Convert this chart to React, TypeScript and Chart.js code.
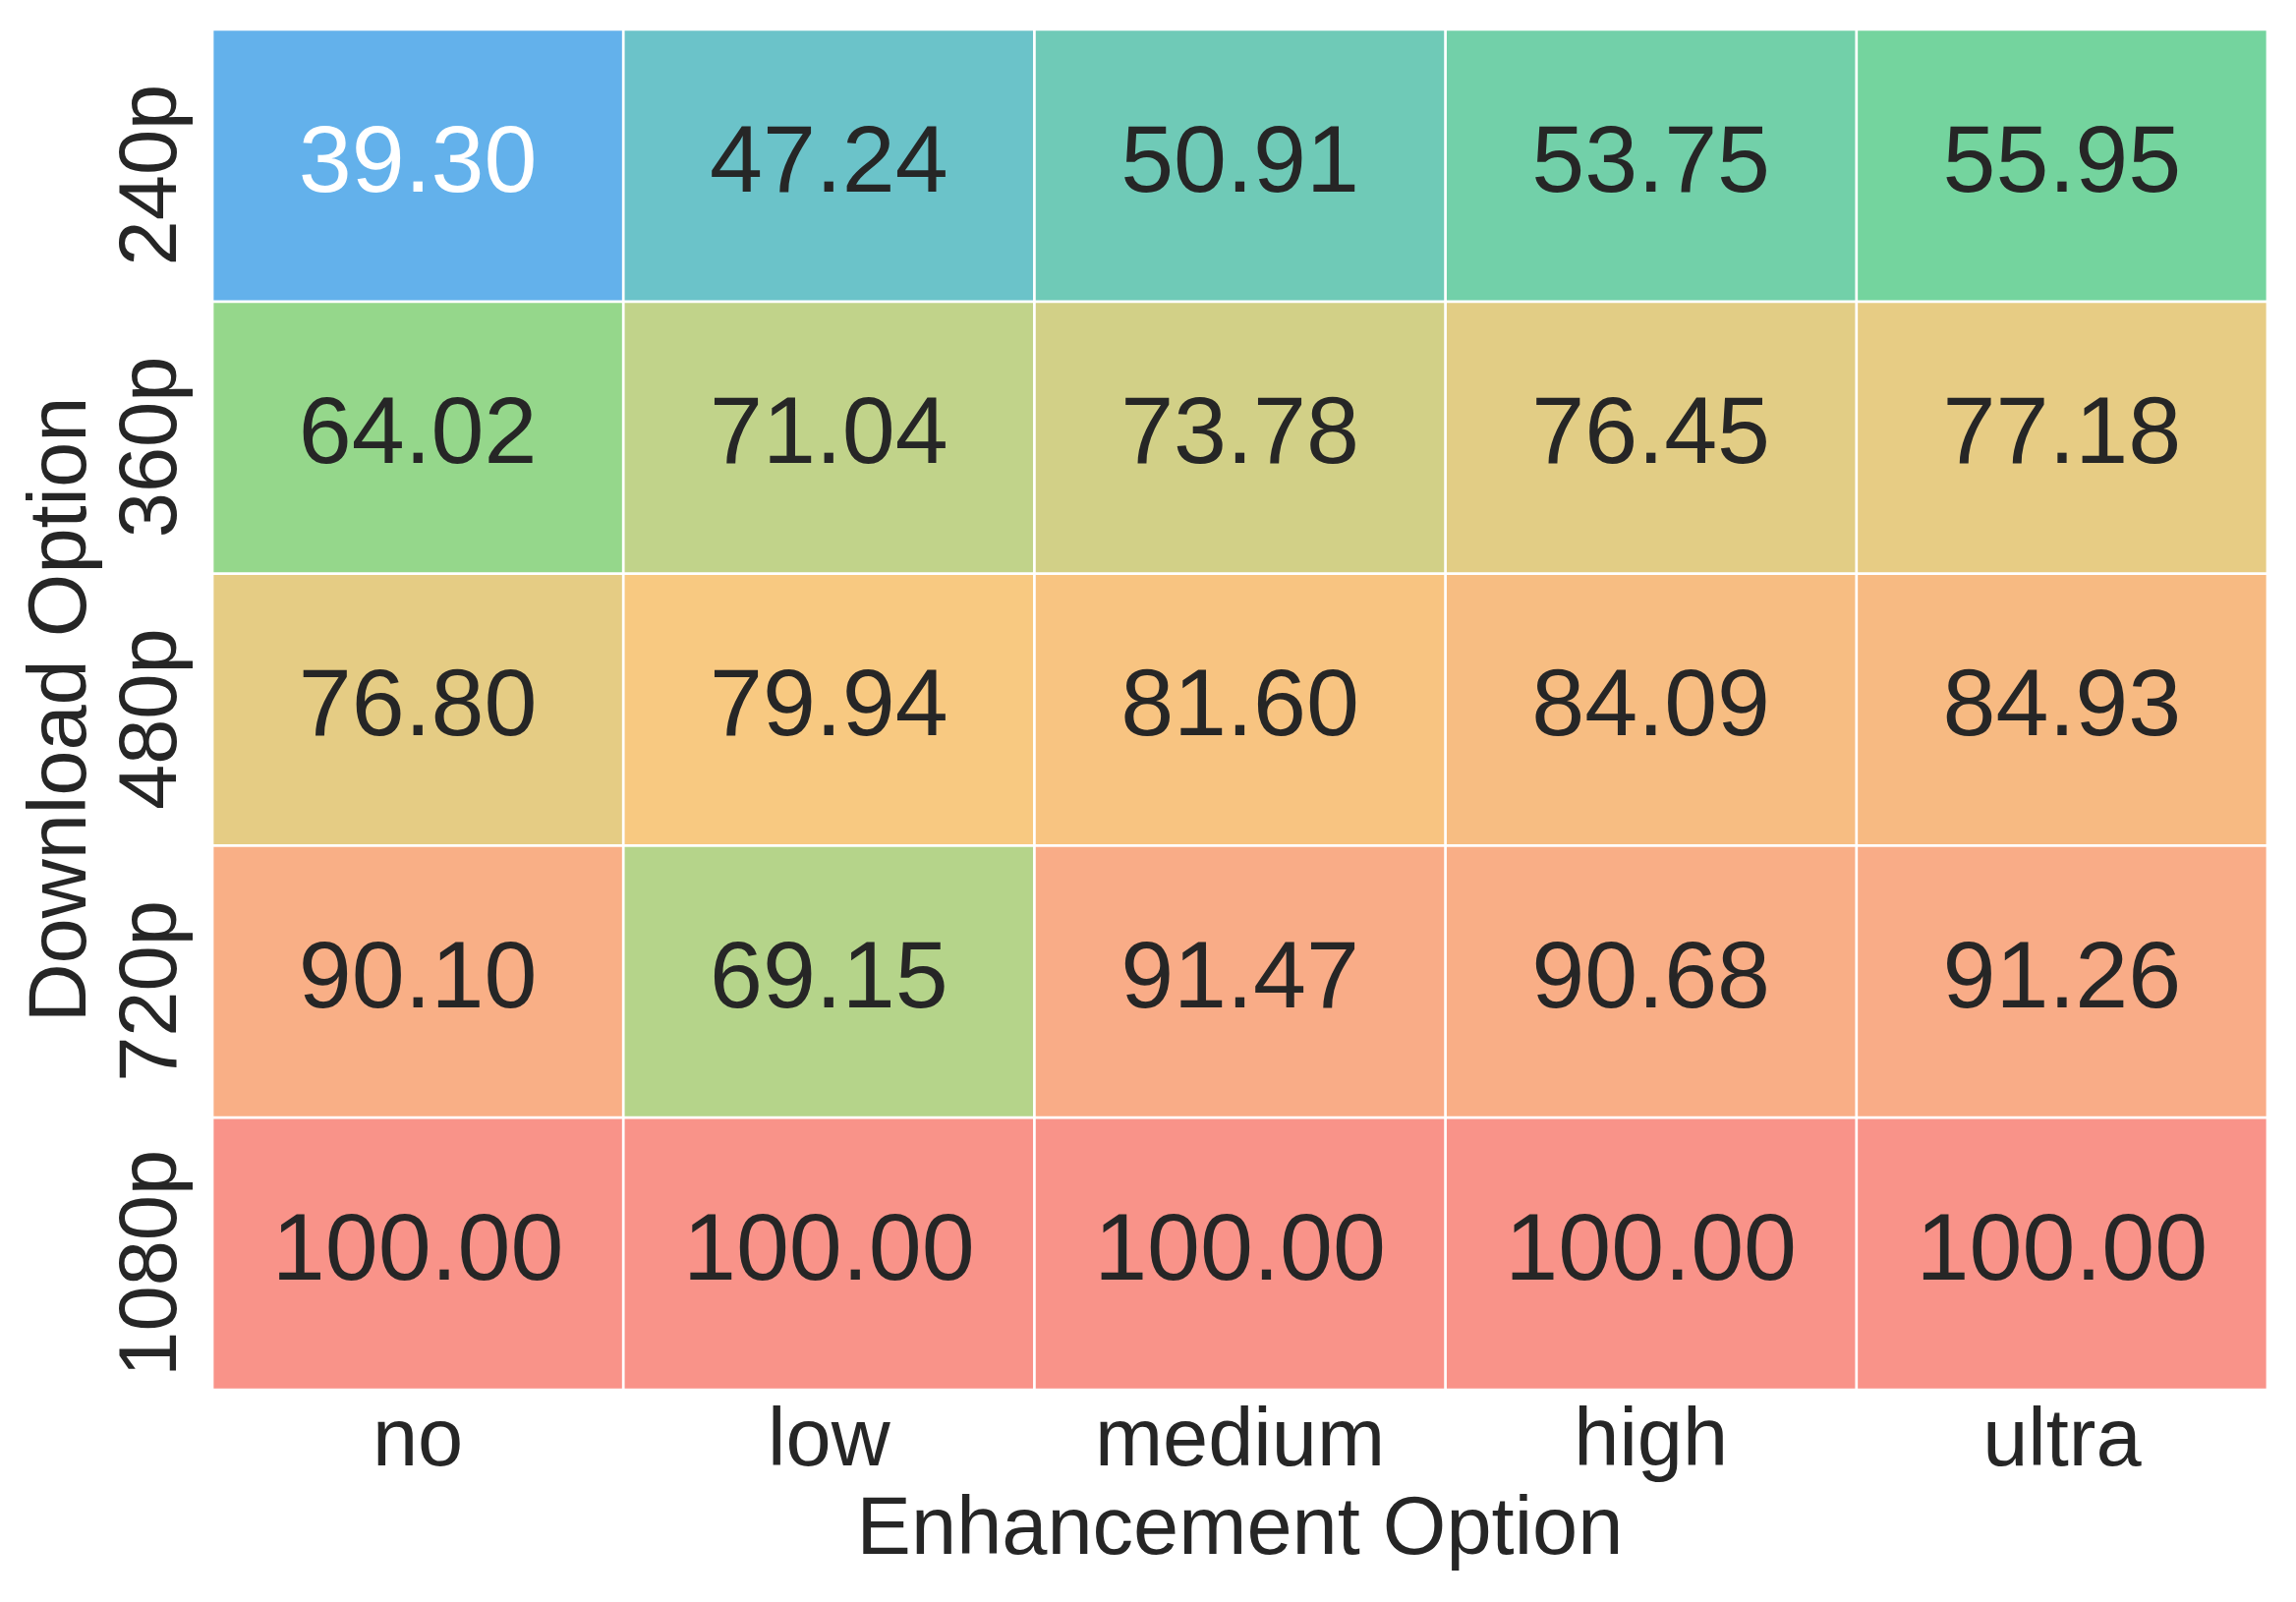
import React, { useEffect, useRef } from "react";
import { Chart, registerables } from "chart.js";

Chart.register(...registerables);

const enhancementOptions = ["no", "low", "medium", "high", "ultra"];
const downloadOptions = ["240p", "360p", "480p", "720p", "1080p"];

const row240p = [39.3, 47.24, 50.91, 53.75, 55.95];
const row360p = [64.02, 71.04, 73.78, 76.45, 77.18];
const row480p = [76.8, 79.94, 81.6, 84.09, 84.93];
const row720p = [90.1, 69.15, 91.47, 90.68, 91.26];
const row1080p = [100.0, 100.0, 100.0, 100.0, 100.0];
const matrixRows = [row240p, row360p, row480p, row720p, row1080p];

// colormap stops (value -> colour)
const colorStops = [39.3, 47.24, 55.95, 64.02, 71.04, 77.18, 79.94, 84.93, 91.47, 100];
const colorHex = ["#63b1eb", "#6bc3c9", "#74d49e", "#95d78b", "#c1d38a", "#e7cc84", "#f8c981", "#f7ba82", "#f9ac87", "#f99389"];

const FONT = "'Liberation Sans', Arial, Helvetica, sans-serif";
const TEXT = "#262626";

function hexToRgb(h: string) {
  const n = parseInt(h.slice(1), 16);
  return [(n >> 16) & 255, (n >> 8) & 255, n & 255];
}

function valueToRgb(v: number) {
  if (v <= colorStops[0]) return hexToRgb(colorHex[0]);
  for (let i = 1; i < colorStops.length; i++) {
    if (v <= colorStops[i]) {
      const t = (v - colorStops[i - 1]) / (colorStops[i] - colorStops[i - 1]);
      const a = hexToRgb(colorHex[i - 1]);
      const b = hexToRgb(colorHex[i]);
      return a.map((x, k) => Math.round(x + (b[k] - x) * t));
    }
  }
  return hexToRgb(colorHex[colorHex.length - 1]);
}

function rgbStr(c: number[]) {
  return `rgb(${c[0]},${c[1]},${c[2]})`;
}

function luminance(c: number[]) {
  const f = (x: number) => {
    const s = x / 255;
    return s <= 0.03928 ? s / 12.92 : Math.pow((s + 0.055) / 1.055, 2.4);
  };
  return 0.2126 * f(c[0]) + 0.7152 * f(c[1]) + 0.0722 * f(c[2]);
}

const cellTextPlugin = {
  id: "cellText",
  afterDatasetsDraw(chart: any) {
    const ctx = chart.ctx;
    ctx.save();
    ctx.font = `97px ${FONT}`;
    ctx.textAlign = "center";
    ctx.textBaseline = "alphabetic";
    chart.data.datasets.forEach((ds: any, r: number) => {
      const meta = chart.getDatasetMeta(r);
      meta.data.forEach((el: any, c: number) => {
        const v = matrixRows[r][c];
        const rgb = valueToRgb(v);
        ctx.fillStyle = luminance(rgb) < 0.408 ? "#ffffff" : TEXT;
        const cy = (el.y + el.base) / 2;
        ctx.fillText(v.toFixed(2), el.x, cy + 0.27 * 97);
      });
    });
    ctx.restore();
  },
};

export default function App() {
  const canvasRef = useRef<HTMLCanvasElement | null>(null);

  useEffect(() => {
    if (!canvasRef.current) return;
    const datasets = matrixRows.map((row, r) => ({
      label: downloadOptions[r],
      data: row.map(() => [r, r + 1]),
      backgroundColor: row.map((v) => rgbStr(valueToRgb(v))),
      borderColor: "#ffffff",
      borderWidth: 1.7,
      borderSkipped: false,
      grouped: false,
      barPercentage: 1,
      categoryPercentage: 1,
    }));

    const chart = new Chart(canvasRef.current, {
      type: "bar",
      data: { labels: enhancementOptions, datasets: datasets as any },
      plugins: [cellTextPlugin],
      options: {
        animation: false,
        responsive: false,
        devicePixelRatio: 1,
        layout: { padding: { left: 0, right: 29, top: 30, bottom: 0 } },
        plugins: { legend: { display: false }, tooltip: { enabled: false } },
        scales: {
          x: {
            type: "category",
            grid: { display: false },
            border: { display: false },
            afterFit: (s: any) => {
              s.height = 216;
            },
            ticks: {
              color: TEXT,
              padding: 5,
              font: { family: FONT, size: 83, lineHeight: 1 },
            },
            title: {
              display: true,
              text: "Enhancement Option",
              color: TEXT,
              font: { family: FONT, size: 83, lineHeight: 1 },
              padding: { top: 0, bottom: 30 },
            },
          },
          y: {
            type: "linear",
            min: 0,
            max: 5,
            reverse: true,
            grid: { display: false },
            border: { display: false },
            afterBuildTicks: (s: any) => {
              s.ticks = downloadOptions.map((_, i) => ({ value: i + 0.535 }));
            },
            afterFit: (s: any) => {
              s.width = 216;
            },
            ticks: {
              autoSkip: false,
              minRotation: 90,
              maxRotation: 90,
              crossAlign: "center",
              padding: -64,
              color: TEXT,
              font: { family: FONT, size: 83, lineHeight: 1 },
              callback: (v: any) => downloadOptions[Math.floor(Number(v))],
            },
            title: {
              display: true,
              text: "Download Option",
              color: TEXT,
              font: { family: FONT, size: 83, lineHeight: 1 },
              padding: { top: 23, bottom: 0 },
            },
          },
        },
      } as any,
    });
    return () => chart.destroy();
  }, []);

  return (
    <div style={{ position: "absolute", left: 0, top: 0, width: 2336, height: 1630, background: "#ffffff" }}>
      <canvas ref={canvasRef} width={2336} height={1630} style={{ width: 2336, height: 1630 }} />
    </div>
  );
}
